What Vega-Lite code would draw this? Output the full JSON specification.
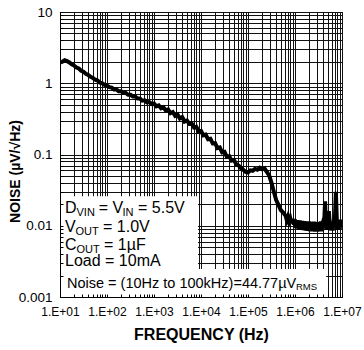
{
  "$schema": "https://vega.github.io/schema/vega-lite/v6.json",
  "width": 282,
  "height": 285,
  "autosize": {"type": "none"},
  "padding": {"left": 60, "top": 12, "right": 22, "bottom": 53},
  "background": "white",
  "config": {
    "font": "Liberation Sans",
    "view": {"stroke": "black", "strokeWidth": 1},
    "axis": {"labelColor": "black", "titleColor": "black", "domainColor": "black", "tickColor": "black"}
  },
  "layer": [
    {
      "data": {"values": [
        {"x1": 10, "x2": 8630, "y1": 0.00248, "y2": 0.026},
        {"x1": 10, "x2": 4600000, "y1": 0.001, "y2": 0.00248}
      ]},
      "mark": {"type": "rect", "color": "white"},
      "encoding": {
        "x": {"field": "x1", "type": "quantitative",
          "scale": {"type": "log", "domain": [10, 10000000], "nice": false},
          "axis": {"orient": "bottom", "grid": true, "gridColor": "#111", "gridWidth": 1, "labels": false, "ticks": false, "domain": false, "title": null, "zindex": 0,
            "values": [10,20,30,40,50,60,70,80,90,100,200,300,400,500,600,700,800,900,1000,2000,3000,4000,5000,6000,7000,8000,9000,10000,20000,30000,40000,50000,60000,70000,80000,90000,100000,200000,300000,400000,500000,600000,700000,800000,900000,1000000,2000000,3000000,4000000,5000000,6000000,7000000,8000000,9000000,10000000]}},
        "x2": {"field": "x2"},
        "y": {"field": "y1", "type": "quantitative",
          "scale": {"type": "log", "domain": [0.001, 10], "nice": false},
          "axis": {"orient": "left", "grid": true, "gridColor": "#111", "gridWidth": 1, "labels": false, "ticks": false, "domain": false, "title": null, "zindex": 0,
            "values": [0.001,0.002,0.003,0.004,0.005,0.006,0.007,0.008,0.009,0.01,0.02,0.03,0.04,0.05,0.06,0.07,0.08,0.09,0.1,0.2,0.3,0.4,0.5,0.6,0.7,0.8,0.9,1,2,3,4,5,6,7,8,9,10]}},
        "y2": {"field": "y2"}
      }
    },
    {
      "data": {"values": [
        {"f":10,"n":1.95},{"f":11.22,"n":2.0},{"f":12.59,"n":2.1},{"f":14.13,"n":2.04},{"f":15.85,"n":1.96},{"f":17.78,"n":1.84},{"f":19.95,"n":1.77},{"f":22.39,"n":1.66},{"f":25.12,"n":1.61},{"f":28.18,"n":1.5},{"f":31.62,"n":1.45},{"f":35.48,"n":1.36},{"f":39.81,"n":1.31},{"f":44.67,"n":1.23},{"f":50.12,"n":1.19},{"f":56.23,"n":1.12},{"f":63.1,"n":1.09},{"f":70.79,"n":1.02},{"f":79.43,"n":1.0},{"f":89.13,"n":0.95},
        {"f":100,"n":0.93},{"f":112.2,"n":0.88},{"f":125.9,"n":0.87},{"f":141.3,"n":0.82},{"f":158.5,"n":0.82},{"f":177.8,"n":0.77},{"f":199.5,"n":0.77},{"f":223.9,"n":0.73},{"f":251.2,"n":0.73},{"f":281.8,"n":0.69},{"f":316.2,"n":0.69},{"f":354.8,"n":0.65},{"f":398.1,"n":0.65},{"f":446.7,"n":0.61},{"f":501.2,"n":0.61},{"f":562.3,"n":0.57},{"f":631,"n":0.575},{"f":707.9,"n":0.54},{"f":794.3,"n":0.545},{"f":891.3,"n":0.51},
        {"f":1000,"n":0.52},{"f":1122,"n":0.475},{"f":1259,"n":0.49},{"f":1413,"n":0.445},{"f":1585,"n":0.46},{"f":1778,"n":0.415},{"f":1995,"n":0.43},{"f":2239,"n":0.38},{"f":2512,"n":0.395},{"f":2818,"n":0.35},{"f":3162,"n":0.365},{"f":3548,"n":0.32},{"f":3981,"n":0.335},{"f":4467,"n":0.29},{"f":5012,"n":0.3},{"f":5623,"n":0.27},{"f":6310,"n":0.275},{"f":7079,"n":0.24},{"f":7943,"n":0.245},{"f":8913,"n":0.212},
        {"f":10000,"n":0.214},{"f":11220,"n":0.186},{"f":12590,"n":0.19},{"f":14130,"n":0.164},{"f":15850,"n":0.166},{"f":17780,"n":0.143},{"f":19950,"n":0.144},{"f":22390,"n":0.123},{"f":25120,"n":0.126},{"f":28180,"n":0.107},{"f":31620,"n":0.109},{"f":35480,"n":0.093},{"f":39810,"n":0.095},{"f":44670,"n":0.082},{"f":50120,"n":0.084},{"f":56230,"n":0.073},{"f":63100,"n":0.07},{"f":70790,"n":0.064},{"f":79430,"n":0.061},{"f":89130,"n":0.057},
        {"f":100000,"n":0.056},{"f":112200,"n":0.06},{"f":125900,"n":0.059},{"f":141300,"n":0.063},{"f":158500,"n":0.061},{"f":177800,"n":0.065},{"f":199500,"n":0.062},{"f":223900,"n":0.064},{"f":251200,"n":0.057},{"f":281800,"n":0.051},{"f":316200,"n":0.04},{"f":354800,"n":0.03},{"f":398100,"n":0.023},{"f":446700,"n":0.0195},{"f":501200,"n":0.0165},{"f":562300,"n":0.0153},
        {"f":631000,"n":0.0138},{"f":668300,"n":0.012},{"f":707900,"n":0.0134},{"f":749900,"n":0.0114},{"f":794300,"n":0.0127},{"f":841400,"n":0.0108},{"f":891300,"n":0.0125},{"f":944100,"n":0.0104},
        {"f":1000000,"n":0.0122},{"f":1059000,"n":0.0093},{"f":1122000,"n":0.0119},{"f":1189000,"n":0.009},{"f":1259000,"n":0.0118},{"f":1334000,"n":0.0088},{"f":1413000,"n":0.0117},{"f":1496000,"n":0.0087},{"f":1585000,"n":0.0116},{"f":1679000,"n":0.0086},{"f":1778000,"n":0.0115},{"f":1884000,"n":0.0085},{"f":1995000,"n":0.0115},{"f":2113000,"n":0.0084},{"f":2239000,"n":0.0113},{"f":2371000,"n":0.0084},{"f":2512000,"n":0.0114},{"f":2661000,"n":0.0083},{"f":2818000,"n":0.0113},{"f":2985000,"n":0.0083},{"f":3162000,"n":0.0112},{"f":3350000,"n":0.0084},{"f":3548000,"n":0.0115},{"f":3758000,"n":0.0084},{"f":3981000,"n":0.0116},{"f":4217000,"n":0.013},{"f":4365000,"n":0.022},{"f":4519000,"n":0.0125},{"f":4732000,"n":0.0088},{"f":5012000,"n":0.0115},{"f":5248000,"n":0.016},{"f":5495000,"n":0.0105},{"f":5623000,"n":0.0086},{"f":5957000,"n":0.0113},{"f":6310000,"n":0.0086},{"f":6683000,"n":0.0118},{"f":7079000,"n":0.013},{"f":7413000,"n":0.03},{"f":7762000,"n":0.012},{"f":7943000,"n":0.0088},{"f":8414000,"n":0.0118},{"f":8913000,"n":0.0089},{"f":9441000,"n":0.0121},{"f":10000000,"n":0.0105}
      ]},
      "mark": {"type": "line", "color": "black", "strokeWidth": 4, "clip": true},
      "encoding": {
        "x": {"field": "f", "type": "quantitative",
          "scale": {"type": "log", "domain": [10, 10000000], "nice": false},
          "axis": {"orient": "bottom", "grid": false, "zindex": 1, "tickSize": -3, "labelPadding": 12, "labelFontSize": 12, "labelFlush": false, "labelOverlap": false,
            "values": [10,20,30,40,50,60,70,80,90,100,200,300,400,500,600,700,800,900,1000,2000,3000,4000,5000,6000,7000,8000,9000,10000,20000,30000,40000,50000,60000,70000,80000,90000,100000,200000,300000,400000,500000,600000,700000,800000,900000,1000000,2000000,3000000,4000000,5000000,6000000,7000000,8000000,9000000,10000000],
            "labelExpr": "indexof([10,100,1000,10000,100000,1000000,10000000], datum.value) >= 0 ? '1.E+0' + format(log(datum.value)/LN10, '.0f') : ''",
            "title": "FREQUENCY (Hz)", "titleFontSize": 16, "titleFontWeight": "bold", "titlePadding": 9}},
        "y": {"field": "n", "type": "quantitative",
          "scale": {"type": "log", "domain": [0.001, 10], "nice": false},
          "axis": {"orient": "left", "grid": false, "zindex": 1, "tickSize": -3, "labelPadding": 11, "labelFontSize": 13.5, "labelOverlap": false,
            "values": [0.001,0.002,0.003,0.004,0.005,0.006,0.007,0.008,0.009,0.01,0.02,0.03,0.04,0.05,0.06,0.07,0.08,0.09,0.1,0.2,0.3,0.4,0.5,0.6,0.7,0.8,0.9,1,2,3,4,5,6,7,8,9,10],
            "labelExpr": "indexof([0.001,0.01,0.1,1,10], datum.value) >= 0 ? format(datum.value, '~g') : ''",
            "title": "NOISE (µV/√Hz)", "titleFontSize": 14, "titleFontWeight": "bold", "titleX": -38, "titleY": 159}}
      }
    },
    {
      "data": {"values": [
        {"f":12.78,"n":0.0149,"t":"D"},{"f":66.9,"n":0.0149,"t":"= V"},{"f":456.6,"n":0.0149,"t":"= 5.5V"},
        {"f":12.78,"n":0.00823,"t":"V"},{"f":82.2,"n":0.00823,"t":"= 1.0V"},
        {"f":12.78,"n":0.004546,"t":"C"},{"f":86.3,"n":0.004546,"t":"= 1µF"},
        {"f":12.78,"n":0.002689,"t":"Load = 10mA"}
      ]},
      "mark": {"type": "text", "align": "left", "baseline": "alphabetic", "fontSize": 16, "color": "black"},
      "encoding": {
        "x": {"field": "f", "type": "quantitative", "axis": null},
        "y": {"field": "n", "type": "quantitative", "axis": null},
        "text": {"field": "t"}
      }
    },
    {
      "data": {"values": [
        {"f":22.44,"n":0.01361,"t":"VIN"},{"f":213.6,"n":0.01361,"t":"IN"},
        {"f":21.36,"n":0.00747,"t":"OUT"},{"f":22.44,"n":0.004166,"t":"OUT"}
      ]},
      "mark": {"type": "text", "align": "left", "baseline": "alphabetic", "fontSize": 11, "color": "black"},
      "encoding": {
        "x": {"field": "f", "type": "quantitative", "axis": null},
        "y": {"field": "n", "type": "quantitative", "axis": null},
        "text": {"field": "t"}
      }
    },
    {
      "data": {"values": [
        {"f":14.09,"n":0.001352,"t":"Noise = (10Hz to 100kHz)=44.77µV"}
      ]},
      "mark": {"type": "text", "align": "left", "baseline": "alphabetic", "fontSize": 14.5, "color": "black"},
      "encoding": {
        "x": {"field": "f", "type": "quantitative", "axis": null},
        "y": {"field": "n", "type": "quantitative", "axis": null},
        "text": {"field": "t"}
      }
    },
    {
      "data": {"values": [
        {"f":1050000,"n":0.001234,"t":"RMS"}
      ]},
      "mark": {"type": "text", "align": "left", "baseline": "alphabetic", "fontSize": 9.5, "color": "black"},
      "encoding": {
        "x": {"field": "f", "type": "quantitative", "axis": null},
        "y": {"field": "n", "type": "quantitative", "axis": null},
        "text": {"field": "t"}
      }
    }
  ],
  "resolve": {"axis": {"x": "independent", "y": "independent"}}
}
